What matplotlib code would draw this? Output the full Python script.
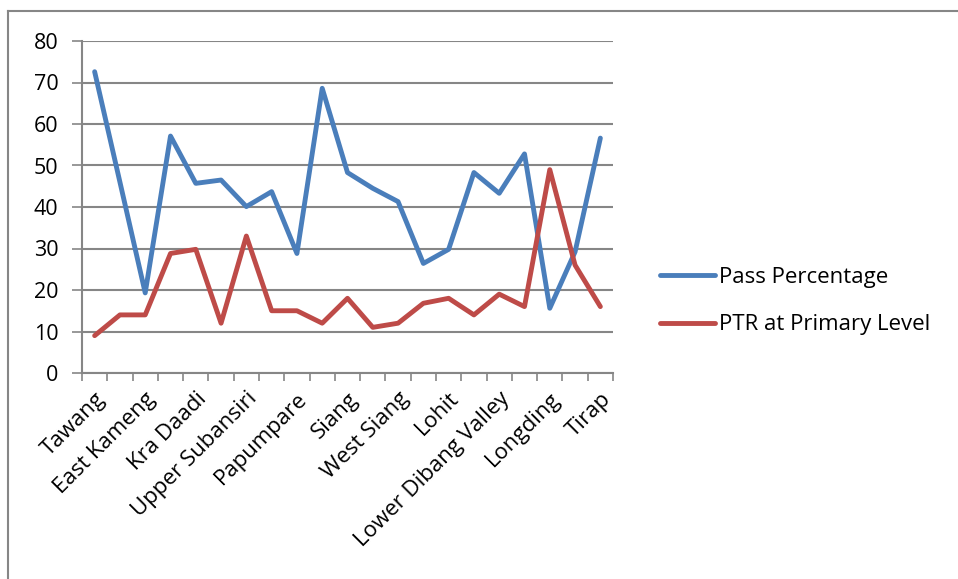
import matplotlib.pyplot as plt
from matplotlib.lines import Line2D

# Districts (only every other name is shown on the axis)
distritos = ['Tawang', 'West Kameng', 'East Kameng', 'Kurung Kumey', 'Kra Daadi',
             'Lower Subansiri', 'Upper Subansiri', 'Kamle', 'Papumpare', 'East Siang',
             'Siang', 'Upper Siang', 'West Siang', 'Lower Siang', 'Lohit', 'Anjaw',
             'Lower Dibang Valley', 'Changlang', 'Longding', 'Namsai', 'Tirap']
pass_pct = [72.6, 46, 19.3, 57.1, 45.7, 46.5, 40.1, 43.7, 28.8, 68.6, 48.3,
            44.5, 41.3, 26.4, 29.8, 48.3, 43.3, 52.8, 15.6, 29.2, 56.6]
ptr_primaria = [9, 14, 14, 28.8, 29.8, 12, 33, 15, 15, 12, 18,
                11, 12, 16.8, 18, 14, 19, 16, 49, 26, 16]
series = ['Pass Percentage', 'PTR at Primary Level']
colores = ['#4A7EBB', '#BE4B48']

plt.rcParams['font.family'] = ['Open Sans', 'DejaVu Sans']
gris = '#868686'

fig = plt.figure(figsize=(9.58, 5.79), dpi=100)
ax = fig.add_axes([82/958, 1 - 373/579, (613-82)/958, (373-41)/579])

x = list(range(len(distritos)))
for valores, color, nombre in zip([pass_pct, ptr_primaria], colores, series):
    ax.plot(x, valores, color=color, lw=3.5, solid_capstyle='round',
            solid_joinstyle='round', label=nombre, zorder=3)

ax.set_xlim(-0.5, len(distritos) - 0.5)
ax.set_ylim(0, 80)
ax.set_yticks(range(0, 81, 10))
ax.yaxis.grid(True, color=gris, lw=1.5)
ax.set_axisbelow(True)

# ticks de categoria en los bordes, etiquetas cada dos
ax.set_xticks([i - 0.5 for i in range(len(distritos) + 1)])
ax.set_xticklabels([])
ax.set_xticks(x[::2], minor=True)
ax.set_xticklabels(distritos[::2], minor=True, rotation=45, ha='right',
                   rotation_mode='anchor', fontsize=16)
ax.tick_params(axis='x', which='major', length=6, width=1.2, color=gris, direction='out')
ax.tick_params(axis='x', which='minor', length=0, pad=11)
ax.tick_params(axis='y', length=7, width=1.2, color=gris, labelsize=15.5, pad=10)

for lado in ['top', 'right']:
    ax.spines[lado].set_visible(False)
for lado in ['left', 'bottom']:
    ax.spines[lado].set_color(gris)
    ax.spines[lado].set_linewidth(1.5)

handles = [Line2D([], [], color=c, lw=3.5, solid_capstyle='round') for c in colores]
fig.legend(handles, series, loc='center left', bbox_to_anchor=(651/958, 1 - 301/579),
           frameon=False, fontsize=16, handlelength=2.5, handletextpad=0.15,
           labelspacing=1.2, borderaxespad=0)

# marco del grafico
fig.add_artist(Line2D([8/958, 8/958], [0, 1 - 11/579], color=gris, lw=1.5))
fig.add_artist(Line2D([8/958, 1], [1 - 11/579, 1 - 11/579], color=gris, lw=1.5))

plt.savefig('out.png', dpi=100)
plt.close()
